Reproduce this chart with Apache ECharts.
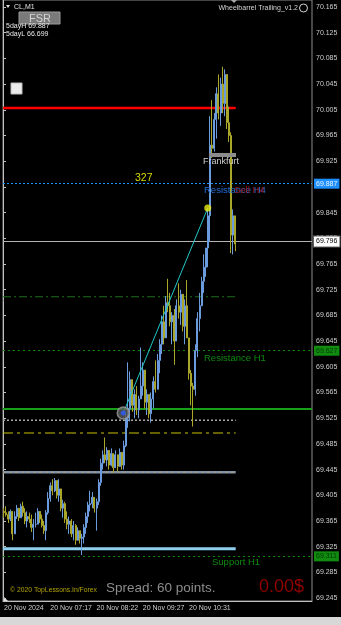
<!DOCTYPE html>
<html>
<head>
<meta charset="utf-8">
<script src="https://cdn.jsdelivr.net/npm/echarts@6/dist/echarts.min.js"></script>
<style>
  html, body { margin: 0; padding: 0; background: #000; }
  #chart { width: 341px; height: 625px; }
</style>
</head>
<body>
<div id="chart"></div>
<script>
// CL, M1 — bar chart with Wheelbarrel Trailing levels
const slotCount = 147;
const timeLabels = ['20 Nov 2024', '20 Nov 07:17', '20 Nov 08:22', '20 Nov 09:27', '20 Nov 10:31'];
const labelSlots = [0, 22, 44, 66, 88];
const priceTicks = [70.165, 70.125, 70.085, 70.045, 70.005, 69.965, 69.925, 69.885, 69.845, 69.805,
  69.765, 69.725, 69.685, 69.645, 69.605, 69.565, 69.525, 69.485, 69.445, 69.405, 69.365, 69.325,
  69.285, 69.245];
// the 69.885 tick sits under the 69.887 tag in the picture
const hiddenTick = 69.885;

const firstOpen = 69.380;
const highs = [
  69.385, 69.388, 69.380, 69.383, 69.378, 69.380, 69.390, 69.385, 69.392, 69.395,
  69.385, 69.380, 69.378, 69.375, 69.368, 69.378, 69.385, 69.380, 69.375, 69.365,
  69.382, 69.410, 69.425, 69.430, 69.432, 69.428, 69.430, 69.408, 69.398, 69.395,
  69.380, 69.372, 69.368, 69.365, 69.360, 69.355, 69.350, 69.345, 69.360, 69.378,
  69.395, 69.412, 69.410, 69.402, 69.400, 69.430, 69.462, 69.475, 69.495, 69.480,
  69.472, 69.478, 69.470, 69.475, 69.468, 69.478, 69.472, 69.490, 69.535, 69.612,
  69.598, 69.580, 69.570, 69.575, 69.560, 69.635, 69.612, 69.585, 69.570, 69.560,
  69.565, 69.590, 69.615, 69.625, 69.648, 69.685, 69.700, 69.715, 69.742, 69.720,
  69.690, 69.695, 69.710, 69.735, 69.725, 69.715, 69.710, 69.740, 69.640, 69.600,
  69.580, 69.640, 69.690, 69.720, 69.745, 69.780, 69.790, 69.850, 69.995, 70.020,
  70.000, 70.040, 70.060, 70.055, 70.072, 70.068, 70.040, 70.010, 69.970, 69.850,
  69.830
];
const lows = [
  69.370, 69.372, 69.362, 69.365, 69.335, 69.350, 69.368, 69.365, 69.370, 69.372,
  69.360, 69.355, 69.362, 69.348, 69.335, 69.355, 69.365, 69.362, 69.355, 69.345,
  69.335, 69.375, 69.395, 69.405, 69.410, 69.400, 69.395, 69.380, 69.370, 69.362,
  69.352, 69.345, 69.340, 69.335, 69.328, 69.335, 69.330, 69.312, 69.330, 69.345,
  69.362, 69.380, 69.385, 69.378, 69.350, 69.390, 69.420, 69.445, 69.455, 69.450,
  69.445, 69.450, 69.440, 69.448, 69.442, 69.450, 69.445, 69.445, 69.480, 69.510,
  69.520, 69.535, 69.525, 69.530, 69.525, 69.565, 69.560, 69.540, 69.530, 69.525,
  69.518, 69.540, 69.565, 69.580, 69.595, 69.625, 69.640, 69.660, 69.690, 69.668,
  69.640, 69.608, 69.655, 69.680, 69.670, 69.660, 69.640, 69.665, 69.585, 69.545,
  69.512, 69.560, 69.620, 69.660, 69.700, 69.720, 69.745, 69.760, 69.800, 69.930,
  69.940, 69.960, 69.990, 69.980, 70.000, 69.995, 69.975, 69.955, 69.782, 69.780,
  69.785
];
const closes = [
  69.378, 69.375, 69.368, 69.380, 69.345, 69.372, 69.385, 69.370, 69.388, 69.378,
  69.365, 69.372, 69.368, 69.355, 69.360, 69.360, 69.380, 69.368, 69.358, 69.350,
  69.378, 69.400, 69.420, 69.412, 69.428, 69.405, 69.415, 69.385, 69.392, 69.368,
  69.360, 69.365, 69.345, 69.358, 69.335, 69.350, 69.338, 69.340, 69.355, 69.372,
  69.390, 69.392, 69.402, 69.385, 69.395, 69.425, 69.455, 69.468, 69.460, 69.475,
  69.452, 69.470, 69.448, 69.468, 69.450, 69.472, 69.452, 69.482, 69.525, 69.540,
  69.585, 69.545, 69.562, 69.538, 69.555, 69.575, 69.600, 69.550, 69.562, 69.532,
  69.555, 69.582, 69.570, 69.615, 69.640, 69.675, 69.650, 69.705, 69.700, 69.675,
  69.685, 69.645, 69.700, 69.690, 69.718, 69.668, 69.700, 69.650, 69.595, 69.575,
  69.570, 69.630, 69.680, 69.700, 69.738, 69.760, 69.790, 69.840, 69.950, 69.945,
  69.990, 70.030, 70.000, 70.045, 70.015, 70.060, 69.985, 69.965, 69.810, 69.840,
  69.796
];

// levels across the whole window (with price tags) and levels that stop at the last bar
const fullLevels = [69.887, 69.796, 69.627, 69.541, 69.311];
const partLevels = [70.008, 69.714, 69.522, 69.502, 69.441, 69.322];
const levelEnd = 110.7;

// trend line from the entry mark to the yellow dot (bar slots, price)
const trendX = [57.2, 97.4];
const trendY = [69.533, 69.852];

const chart = echarts.init(document.getElementById('chart'));

const candles = closes.map((c, i) => {
  const o = i === 0 ? firstOpen : closes[i - 1];
  return [o, c, Math.min(lows[i], o, c), Math.max(highs[i], o, c)];
});

const fullStyles = [
  { line: { color: '#1e8fff', type: [2, 2], width: 1 }, tag: { bg: '#1e8fff', fg: '#e8f2ff' } },
  { line: { color: '#b4b4b4', type: 'solid', width: 1 }, tag: { bg: '#ffffff', fg: '#000000' } },
  { line: { color: '#0c8a0c', type: [2, 3], width: 1 }, tag: { bg: '#118c11', fg: '#003800' } },
  { line: { color: '#18a018', type: 'solid', width: 2 }, tag: null },
  { line: { color: '#0c8a0c', type: [2, 3], width: 1 }, tag: { bg: '#118c11', fg: '#003800' } }
];
const partStyles = [
  { color: '#ff0000', type: 'solid', width: 2.5 },
  { color: '#1f6e1f', type: [8, 3, 2, 3], width: 1 },
  { color: '#a8a8a8', type: [2, 2], width: 1.5 },
  { color: '#c8c000', type: [10, 4, 3, 4], width: 1 },
  { color: '#7c93aa', type: 'solid', width: 2.5 },
  { color: '#8fd0ee', type: 'solid', width: 3 }
];

const levelSeries = partLevels.map((p, i) => ({
  type: 'line', xAxisIndex: 1, yAxisIndex: 0, silent: true, z: 1,
  symbol: 'none', data: [[0, p], [levelEnd, p]],
  lineStyle: partStyles[i]
}));
// tan dashes over the steel level
levelSeries.push({
  type: 'line', xAxisIndex: 1, yAxisIndex: 0, silent: true, z: 1,
  symbol: 'none', data: [[0, partLevels[4]], [levelEnd, partLevels[4]]],
  lineStyle: { color: '#b49c80', type: [3, 3], width: 1 }
});

const fnt = (size) => size + 'px "Liberation Sans", Arial, sans-serif';
const txt = (text, x, y, fill, size, align, opacity) => ({
  type: 'text', x: x, y: y, silent: true, z: 100,
  style: { text: text, fill: fill, font: fnt(size), align: align || 'left', verticalAlign: 'middle', opacity: opacity == null ? 1 : opacity }
});

chart.setOption({
  backgroundColor: '#000000',
  animation: false,
  grid: { left: 3, right: 29, top: 0, bottom: 24, show: true, borderColor: '#8a8a8a', borderWidth: 1 },
  xAxis: [{
    type: 'category', data: Array.from({ length: slotCount }, (_, i) => i),
    boundaryGap: true,
    axisLine: { lineStyle: { color: '#c0c0c0' } },
    axisTick: { alignWithLabel: true, length: 3, lineStyle: { color: '#c0c0c0' },
      interval: (idx) => labelSlots.includes(idx) },
    axisLabel: { color: '#cfcfcf', fontSize: 7, fontFamily: 'Liberation Sans', align: 'left', margin: 4,
      interval: (idx) => labelSlots.includes(idx),
      formatter: (v) => timeLabels[labelSlots.indexOf(+v)] || '' },
    splitLine: { show: false }
  }, {
    type: 'value', min: 0, max: slotCount, show: false
  }],
  yAxis: {
    type: 'value', position: 'right', min: 69.2405, max: 70.1759, scale: true,
    axisLine: { show: true, lineStyle: { color: '#c0c0c0' } },
    axisTick: { show: true, length: 3, customValues: priceTicks, lineStyle: { color: '#c0c0c0' } },
    axisLabel: { color: '#cfcfcf', fontSize: 7, fontFamily: 'Liberation Sans', margin: 4,
      customValues: priceTicks.filter(v => v !== hiddenTick), formatter: (v) => v.toFixed(3) },
    splitLine: { show: false }
  },
  series: [
    ...levelSeries,
    {
      type: 'candlestick', xAxisIndex: 0, yAxisIndex: 0, z: 3,
      data: candles, barWidth: 1.5,
      itemStyle: { color: '#6b9bdc', color0: '#aaa62a', borderColor: '#6b9bdc', borderColor0: '#aaa62a', borderWidth: 1 },
      markLine: {
        silent: true, symbol: ['none', 'none'], z: 2,
        data: fullLevels.map((p, i) => ({
          yAxis: p,
          lineStyle: fullStyles[i].line,
          label: fullStyles[i].tag ? {
            show: true, position: 'end', distance: 2, formatter: p.toFixed(3),
            backgroundColor: fullStyles[i].tag.bg, color: fullStyles[i].tag.fg,
            fontSize: 7, fontFamily: 'Liberation Sans', padding: [2, 2, 1, 2],
            borderColor: i === 1 ? '#606060' : 'transparent', borderWidth: i === 1 ? 1 : 0
          } : { show: false }
        }))
      }
    },
    {
      type: 'line', xAxisIndex: 1, yAxisIndex: 0, z: 4, silent: true, symbol: 'none',
      data: trendX.map((x, i) => [x, trendY[i]]),
      lineStyle: { color: '#1fc8c8', width: 1 }
    },
    {
      type: 'scatter', xAxisIndex: 1, yAxisIndex: 0, z: 5, silent: true,
      data: [[trendX[0], trendY[0]]], symbolSize: 12,
      itemStyle: { color: '#5c5c5c', borderColor: '#9c9c9c', borderWidth: 1.5 }
    },
    {
      type: 'scatter', xAxisIndex: 1, yAxisIndex: 0, z: 6, silent: true,
      data: [[trendX[0], trendY[0]]], symbolSize: 5,
      itemStyle: { color: '#2a5cff' }
    },
    {
      type: 'scatter', xAxisIndex: 1, yAxisIndex: 0, z: 6, silent: true,
      data: [[trendX[1], trendY[1]]], symbolSize: 7,
      itemStyle: { color: '#ecec10' }
    }
  ],
  graphic: [
    { type: 'polygon', silent: true, shape: { points: [[6, 5], [10, 5], [8, 8]] }, style: { fill: '#e0e0e0' } },
    txt('CL,M1', 14, 7, '#e0e0e0', 7),
    { type: 'rect', silent: true, z: 40, shape: { x: 19, y: 12, width: 41, height: 12 }, style: { fill: '#7a7a7a', stroke: '#9a9a9a', lineWidth: 1 } },
    txt('FSR', 40, 18.5, '#d4d4d4', 11, 'center'),
    txt('5dayH 69.887', 6, 26, '#e8e8e8', 7),
    txt('5dayL 66.699', 6, 34.5, '#e8e8e8', 7),
    { type: 'rect', silent: true, shape: { x: 11, y: 83, width: 11, height: 11 }, style: { fill: '#ececec', stroke: '#bdbdbd', lineWidth: 1 } },
    txt('Wheelbarrel Trailing_v1.2', 298, 8, '#d4d4d4', 7, 'right'),
    { type: 'circle', silent: true, shape: { cx: 303.5, cy: 8, r: 4 }, style: { fill: 'none', stroke: '#d4d4d4', lineWidth: 1 } },
    { type: 'polygon', silent: true, shape: { points: [[231, 0], [237, 0], [234, 3]] }, style: { fill: '#a8a8a8' } },
    txt('327', 135, 178, '#d8d800', 10.5),
    { type: 'rect', silent: true, z: 40, shape: { x: 209, y: 153, width: 27, height: 4 }, style: { fill: '#8c8c8c' } },
    txt('Frankfurt', 203, 161.5, '#cfcfcf', 9),
    txt('Resistance H4', 204, 190, '#2070d8', 9.5),
    txt('Sell H4', 234, 190, '#c01414', 9.5, 'left', 0.8),
    txt('Resistance H1', 204, 358, '#0f8a0f', 9.5),
    txt('Support H1', 212, 562, '#0f8a0f', 9.5),
    txt('© 2020 TopLessons.In/Forex', 10, 590, '#b0a200', 6.8),
    txt('Spread: 60 points.', 106, 588, '#8c8c8c', 13.5),
    txt('0.00$', 259, 587, '#920000', 18),
    { type: 'polygon', silent: true, shape: { points: [[3, 596], [3, 601], [8, 601]] }, style: { fill: '#e0e0e0' } },
    { type: 'rect', silent: true, shape: { x: 0, y: 617, width: 341, height: 8 }, style: { fill: '#d8d8d8' } }
  ]
});
</script>
</body>
</html>
